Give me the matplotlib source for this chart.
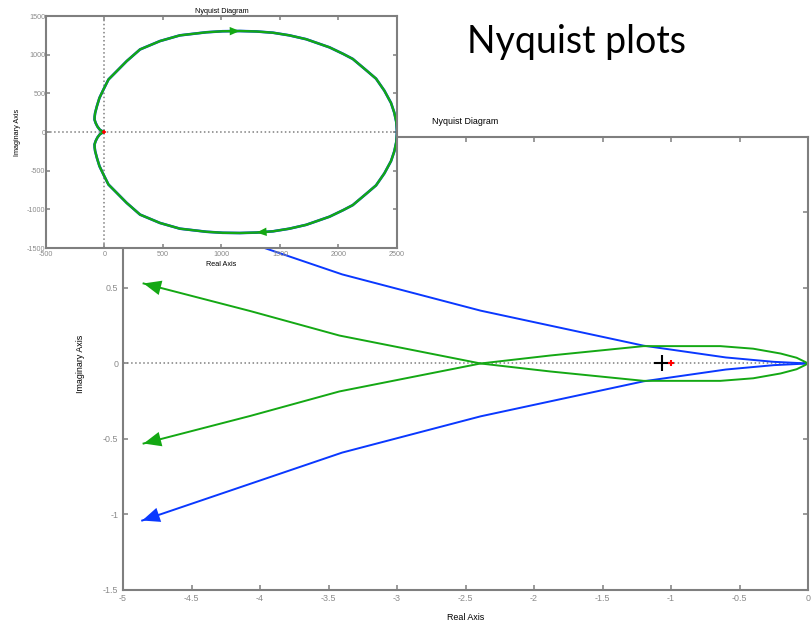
import numpy as np
import matplotlib
matplotlib.use('Agg')
import matplotlib.pyplot as plt

plt.rcParams['font.family'] = ['Liberation Sans', 'DejaVu Sans']

# main plot, upper branches (lower branches are the mirror image)
blue_x = [-4.86, -3.4, -2.39, -1.2, -0.6, -0.25, 0.0]
blue_y = [1.04, 0.59, 0.35, 0.118, 0.04, 0.011, 0.0]
green_x = [-4.85, -4.07, -3.42, -2.39, -1.88, -1.2, -0.64, -0.40, -0.20, -0.083, -0.022, 0.0]
green_y = [0.53, 0.347, 0.185, 0.0, -0.053, -0.115, -0.115, -0.098, -0.066, -0.038, -0.011, 0.0]

# inset, upper half from the origin round to the right end
inset_x = [-9, -40, -60, -75, -85, -84, -80, -65, -43, -9, 34, 105, 190, 304, 474,
           645, 872, 1010, 1156, 1300, 1440, 1580, 1724, 1923, 2040, 2122, 2236,
           2321, 2392, 2449, 2477, 2494, 2500]
inset_y = [0, 30, 70, 115, 160, 200, 246, 333, 441, 549, 679, 787, 917, 1068, 1176,
           1250, 1290, 1303, 1306, 1300, 1284, 1250, 1200, 1095, 1010, 945, 800,
           690, 535, 376, 250, 130, 0]

main_xticks = [-5, -4.5, -4, -3.5, -3, -2.5, -2, -1.5, -1, -0.5, 0]
main_xlabels = ['-5', '-4.5', '-4', '-3.5', '-3', '-2.5', '-2', '-1.5', '-1', '-0.5', '0']
main_yticks = [-1.5, -1, -0.5, 0, 0.5, 1, 1.5]
main_ylabels = ['-1.5', '-1', '-0.5', '0', '0.5', '1', '1.5']
inset_xticks = [-500, 0, 500, 1000, 1500, 2000, 2500]
inset_yticks = [-1500, -1000, -500, 0, 500, 1000, 1500]

BLUE = '#0a38ff'
GREEN = '#14a814'
GREY = '#7f7f7f'
TICKC = '#8a8a8a'


def arrow(ax, xs, ys, tip, tail, color, scale):
    ax.annotate('', xy=(xs[tip], ys[tip]), xytext=(xs[tail], ys[tail]),
                arrowprops=dict(arrowstyle='-|>,head_length=0.9,head_width=0.38',
                                color=color, lw=0, shrinkA=0, shrinkB=0,
                                mutation_scale=scale))


def style(ax, fs, ticklen, pad):
    for s in ax.spines.values():
        s.set_color(GREY)
        s.set_linewidth(1.5)
    ax.tick_params(direction='in', length=ticklen, width=1.1, color=GREY,
                   labelcolor=TICKC, labelsize=fs, pad=pad,
                   top=True, right=True)


fig = plt.figure(figsize=(8.11, 6.23), dpi=100)

# ---- main axes
ax = fig.add_axes([0.1517, 0.0530, 0.8446, 0.7271])
ax.set_zorder(1)
bx = np.array(blue_x)
by = np.array(blue_y)
gx = np.array(green_x)
gy = np.array(green_y)
ax.plot([-5, 0], [0, 0], ':', color=GREY, lw=1.1)
ax.plot(bx, by, color=BLUE, lw=1.4)
ax.plot(bx, -by, color=BLUE, lw=1.4)
ax.plot(gx, gy, color=GREEN, lw=1.4)
ax.plot(gx, -gy, color=GREEN, lw=1.4)
arrow(ax, bx, -by, 0, 1, BLUE, 14)
arrow(ax, bx, by, 0, 1, BLUE, 14)
arrow(ax, gx, gy, 0, 1, GREEN, 14)
arrow(ax, gx, -gy, 0, 1, GREEN, 14)
ax.plot([-1.068], [0], '+', color='black', ms=11, mew=1.5)
ax.plot([-1], [0], '+', color='red', ms=5, mew=1.5)
ax.set_xlim(-5, 0)
ax.set_ylim(-1.5, 1.5)
ax.set_xticks(main_xticks, main_xlabels)
ax.set_yticks(main_yticks, main_ylabels)
style(ax, 6.4, 3.6, 3.2)
ax.set_title('Nyquist Diagram', fontsize=6.4, pad=9)
ax.set_xlabel('Real Axis', fontsize=6.4, labelpad=7)
ax.set_ylabel('Imaginary Axis', fontsize=6.4, labelpad=13)

# ---- inset axes
ins = fig.add_axes([0.0567, 0.6019, 0.4328, 0.3724])
ins.set_zorder(2)
ins.set_facecolor('white')
ix = np.array(inset_x)
iy = np.array(inset_y)
loop_x = np.concatenate([ix, ix[::-1]])
loop_y = np.concatenate([iy, -iy[::-1]])
ins.plot([-500, 2500], [0, 0], ':', color=GREY, lw=1.1)
ins.plot([0, 0], [-1500, 1500], ':', color=GREY, lw=1.1)
ins.plot(loop_x, loop_y, color=BLUE, lw=1.9)
ins.plot(loop_x, loop_y, color=GREEN, lw=1.7)
arrow(ins, ix, iy, 18, 17, GREEN, 8)
arrow(ins, ix, -iy, 19, 20, GREEN, 8)
ins.plot([-1], [0], '+', color='red', ms=3, mew=1.2)
ins.set_xlim(-500, 2500)
ins.set_ylim(-1500, 1500)
ins.set_xticks(inset_xticks, [str(v) for v in inset_xticks])
ins.set_yticks(inset_yticks, [str(v) for v in inset_yticks])
style(ins, 5.2, 2.8, 2.5)
ins.tick_params(axis='y', pad=0.5)
ins.set_title('Nyquist Diagram', fontsize=5.2, pad=2)
ins.set_xlabel('Real Axis', fontsize=5.2, labelpad=1.5)
ins.set_ylabel('Imaginary Axis', fontsize=5.2, labelpad=4)

fig.text(0.576, 0.915, 'Nyquist plots', fontsize=27, family=['Lato', 'DejaVu Sans'],
         ha='left', va='baseline')

fig.savefig('out.png', dpi=100)
